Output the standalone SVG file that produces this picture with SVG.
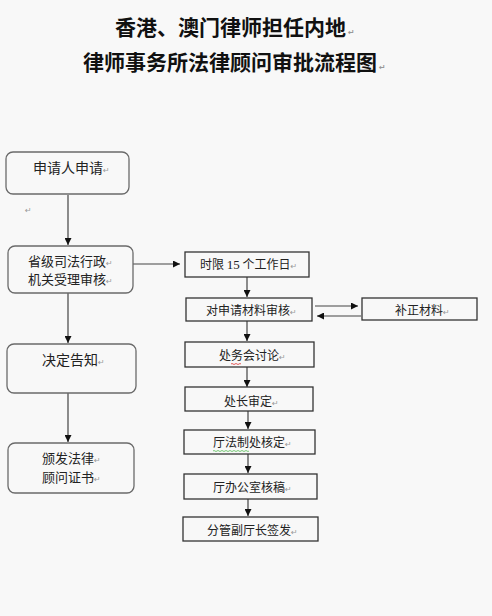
<svg xmlns="http://www.w3.org/2000/svg" width="492" height="616" viewBox="0 0 492 616">
<style>
.title{font-family:"Noto Sans CJK SC","Noto Sans CJK TC",sans-serif;font-size:21px;font-weight:bold;fill:#111}
.lt{font-family:"Noto Sans CJK SC",sans-serif;font-size:14px;fill:#222}
.lt2{font-family:"Noto Sans CJK SC",sans-serif;font-size:13px;fill:#222}
.rt{font-family:"Noto Sans CJK SC",sans-serif;font-size:12px;fill:#222}
.pm{font-family:"DejaVu Sans",sans-serif;font-size:8px;fill:#999}
.rb{fill:#f8f8f8;stroke:#6a6a6a;stroke-width:1.3}
.sb{fill:#f8f8f8;stroke:#333;stroke-width:1.3}
.cn{stroke:#444;stroke-width:1.2;fill:none}
</style>
<defs>
<marker id="ah" viewBox="0 0 10 10" refX="10" refY="5" markerWidth="7" markerHeight="7" orient="auto" markerUnits="userSpaceOnUse">
<path d="M0,0 L10,5 L0,10 Z" fill="#111"/>
</marker>
</defs>
<rect width="492" height="616" fill="#f8f8f8"/>
<g id="title">
<text class="title" x="115" y="35">香港、澳门律师担任内地<tspan class="pm" dx="2">↵</tspan></text>
<text class="title" x="83" y="70">律师事务所法律顾问审批流程图<tspan class="pm" dx="2">↵</tspan></text>
</g>
<text class="pm" x="25" y="213">↵</text>
<g id="connectors">
<line class="cn" x1="68" y1="195" x2="68" y2="245" marker-end="url(#ah)"/>
<line class="cn" x1="133" y1="264" x2="180" y2="264" marker-end="url(#ah)"/>
<line class="cn" x1="68" y1="293" x2="68" y2="343" marker-end="url(#ah)"/>
<line class="cn" x1="68" y1="393" x2="68" y2="442" marker-end="url(#ah)"/>
<line class="cn" x1="247" y1="277" x2="247" y2="297" marker-end="url(#ah)"/>
<line class="cn" x1="315" y1="306" x2="358" y2="306" marker-end="url(#ah)"/>
<line class="cn" x1="361" y1="316" x2="317" y2="316" marker-end="url(#ah)"/>
<line class="cn" x1="247" y1="321" x2="247" y2="341" marker-end="url(#ah)"/>
<line class="cn" x1="247" y1="367" x2="247" y2="387" marker-end="url(#ah)"/>
<line class="cn" x1="248" y1="411" x2="248" y2="429" marker-end="url(#ah)"/>
<line class="cn" x1="248" y1="454" x2="248" y2="473" marker-end="url(#ah)"/>
<line class="cn" x1="248" y1="499" x2="248" y2="516" marker-end="url(#ah)"/>
</g>
<g id="n-apply">
<rect class="rb" x="6" y="152" width="123" height="42" rx="7"/>
<text class="lt" x="33" y="173">申请人申请<tspan class="pm">↵</tspan></text>
</g>
<g id="n-accept">
<rect class="rb" x="8" y="246" width="125" height="47" rx="7"/>
<text class="lt2" x="28" y="266">省级司法行政<tspan class="pm">↵</tspan></text>
<text class="lt2" x="28" y="284">机关受理审核<tspan class="pm">↵</tspan></text>
</g>
<g id="n-decide">
<rect class="rb" x="7" y="344" width="129" height="49" rx="7"/>
<text class="lt" x="42" y="365">决定告知<tspan class="pm">↵</tspan></text>
</g>
<g id="n-cert">
<rect class="rb" x="8" y="443" width="126" height="50" rx="7"/>
<text class="lt2" x="42" y="463">颁发法律<tspan class="pm">↵</tspan></text>
<text class="lt2" x="42" y="482">顾问证书<tspan class="pm">↵</tspan></text>
</g>
<g id="n-limit">
<rect class="sb" x="185" y="252" width="124" height="25"/>
<text class="rt" x="200" y="269">时限 <tspan font-family="Liberation Serif,serif" font-size="13">15</tspan> 个工作日<tspan class="pm">↵</tspan></text>
</g>
<g id="n-review">
<rect class="sb" x="186" y="298" width="126" height="23"/>
<text class="rt" x="206" y="315">对申请材料审核<tspan class="pm">↵</tspan></text>
</g>
<g id="n-supply">
<rect class="sb" x="362" y="298" width="115" height="22"/>
<text class="rt" x="395" y="315">补正材料<tspan class="pm">↵</tspan></text>
</g>
<g id="n-meeting">
<rect class="sb" x="185" y="342" width="129" height="25"/>
<text class="rt" x="219" y="360">处务会讨论<tspan class="pm">↵</tspan></text>
<path d="M231,364 q1,-1 2,0 t2,0 t2,0 t2,0 t2,0" stroke="#d33" stroke-width="0.8" fill="none"/>
</g>
<g id="n-chief">
<rect class="sb" x="185" y="387" width="128" height="24"/>
<text class="rt" x="224" y="406">处长审定<tspan class="pm">↵</tspan></text>
</g>
<g id="n-legal">
<rect class="sb" x="184" y="430" width="131" height="24"/>
<text class="rt" x="213" y="447">厅法制处核定<tspan class="pm">↵</tspan></text>
<path d="M213,451 q1,-1 2,0 t2,0 t2,0 t2,0 t2,0 t2,0 t2,0 t2,0 t2,0 t2,0 t2,0 t2,0 t2,0 t2,0 t2,0 t2,0 t2,0 t2,0" stroke="#5b5" stroke-width="0.8" fill="none"/>
</g>
<g id="n-office">
<rect class="sb" x="184" y="474" width="133" height="25"/>
<text class="rt" x="213" y="492">厅办公室核稿<tspan class="pm">↵</tspan></text>
</g>
<g id="n-sign">
<rect class="sb" x="183" y="517" width="135" height="24"/>
<text class="rt" x="207" y="535">分管副厅长签发<tspan class="pm">↵</tspan></text>
</g>
</svg>
